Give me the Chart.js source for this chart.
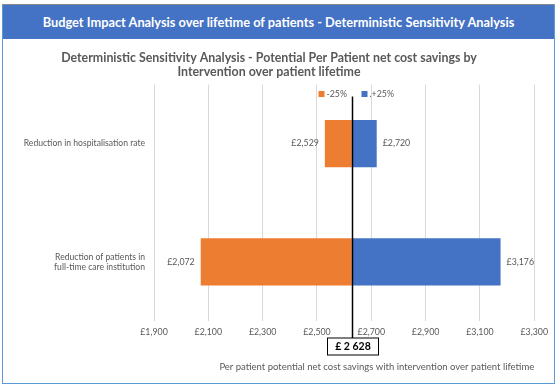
<!DOCTYPE html>
<html>
<head>
<meta charset="utf-8">
<script src="https://cdn.jsdelivr.net/npm/chart.js@4.4.1/dist/chart.umd.min.js"></script>
<style>
  body { margin: 0; background: #fff; font-family: Lato, sans-serif; }
  #frame { position: absolute; left: 2px; top: 4px; width: 551px; height: 378px; border: 1px solid #5b9bd5; border-top-color: #8a8a8a; }
  #header { height: 34px; background: #4472c4; color: #fff; font-weight: bold; font-size: 12.8px; text-align: center; line-height: 34px; }
  #wrap { position: relative; width: 551px; height: 344px; }
</style>
</head>
<body>
<div id="frame">
  <div id="header">Budget Impact Analysis over lifetime of patients - Deterministic Sensitivity Analysis</div>
  <div id="wrap"><canvas id="chart"></canvas></div>
</div>
<script>
const categories = [
  'Reduction in hospitalisation rate',
  ['Reduction of patients in', 'full-time care institution']
];
const seriesLabels = ['-25%', '.+25%'];
const lowValues = [2529, 2072];
const highValues = [2720, 3176];
const baseValue = 2628;
const xTicks = { min: 1900, max: 3300, step: 200 };

const grey = '#595959';
const gbp = v => '£' + v.toLocaleString('en-GB');

// value labels at the outer end of each bar
const barLabels = {
  id: 'barLabels',
  afterDatasetsDraw(chart) {
    const { ctx } = chart;
    ctx.save();
    ctx.font = '8.8px Lato';
    ctx.fillStyle = grey;
    ctx.textBaseline = 'middle';
    chart.data.datasets.forEach((ds, i) => {
      chart.getDatasetMeta(i).data.forEach((bar, j) => {
        const v = ds.data[j][1];
        const left = v < baseValue;
        ctx.textAlign = left ? 'right' : 'left';
        const edge = left ? Math.min(bar.x, bar.base) - 6 : Math.max(bar.x, bar.base) + 6;
        ctx.fillText(gbp(v), edge, bar.y);
      });
    });
    ctx.restore();
  }
};

// baseline line, value box and legend centred on it
const baseline = {
  id: 'baseline',
  afterDraw(chart) {
    const { ctx, chartArea, scales: { x } } = chart;
    const px = Math.round(x.getPixelForValue(baseValue)) + 0.5;
    const boxTop = chartArea.bottom + 17;
    ctx.save();
    ctx.strokeStyle = '#000';
    ctx.lineWidth = 1.5;
    ctx.beginPath();
    ctx.moveTo(px, chartArea.top + 12);
    ctx.lineTo(px, boxTop);
    ctx.stroke();

    ctx.lineWidth = 1;
    ctx.fillStyle = '#fff';
    ctx.fillRect(px - 25, boxTop, 51, 17);
    ctx.strokeRect(px - 25, boxTop, 51, 17);
    ctx.fillStyle = '#000';
    ctx.font = 'bold 10.5px Lato';
    ctx.textAlign = 'center';
    ctx.textBaseline = 'middle';
    ctx.fillText('£ ' + baseValue.toLocaleString('en-GB').replace(',', ' '), px + 0.5, boxTop + 9);

    // legend
    ctx.font = '8.8px Lato';
    ctx.textAlign = 'left';
    const y = chartArea.top + 10;
    let lx = px - 34;
    chart.data.datasets.forEach(ds => {
      ctx.fillStyle = ds.backgroundColor;
      ctx.fillRect(lx, y - 3.5, 6, 6);
      ctx.fillStyle = grey;
      ctx.fillText(ds.label, lx + 8, y);
      lx += 43;
    });
    ctx.restore();
  }
};

new Chart(document.getElementById('chart'), {
  type: 'bar',
  data: {
    labels: categories,
    datasets: [
      { label: seriesLabels[0], data: lowValues.map(v => [baseValue, v]), backgroundColor: '#ed7d31' },
      { label: seriesLabels[1], data: highValues.map(v => [baseValue, v]), backgroundColor: '#4472c4' }
    ]
  },
  options: {
    indexAxis: 'y',
    responsive: true,
    maintainAspectRatio: false,
    animation: false,
    grouped: false,
    categoryPercentage: 1,
    barPercentage: 0.4,
    layout: { padding: { left: 0, right: 19, top: 0, bottom: 0 } },
    plugins: {
      legend: { display: false },
      tooltip: { enabled: false },
      title: {
        display: true,
        text: ['Deterministic Sensitivity Analysis - Potential Per Patient net cost savings by', 'Intervention over patient lifetime'],
        color: grey,
        font: { family: 'Lato', size: 12.4, weight: 'bold', lineHeight: 1.15 },
        padding: { top: 12, bottom: 5 }
      }
    },
    scales: {
      x: {
        min: xTicks.min,
        max: xTicks.max,
        ticks: { stepSize: xTicks.step, callback: v => gbp(v), color: grey, font: { family: 'Lato', size: 8.8 }, padding: 6 },
        grid: { color: '#d9d9d9', drawTicks: false },
        border: { display: false },
        title: {
          display: true,
          text: 'Per patient potential net cost savings with intervention over patient lifetime',
          color: grey,
          font: { family: 'Lato', size: 9.5 },
          align: 'end',
          padding: { top: 0, bottom: 10 }
        },
        afterFit: s => { s.height = 62; }
      },
      y: {
        ticks: { color: grey, font: { family: 'Lato', size: 8.6 }, padding: 9 },
        grid: { display: false, drawTicks: false },
        border: { display: false },
        afterFit: s => { s.width = 151; }
      }
    }
  },
  plugins: [barLabels, baseline]
});
</script>
</body>
</html>
